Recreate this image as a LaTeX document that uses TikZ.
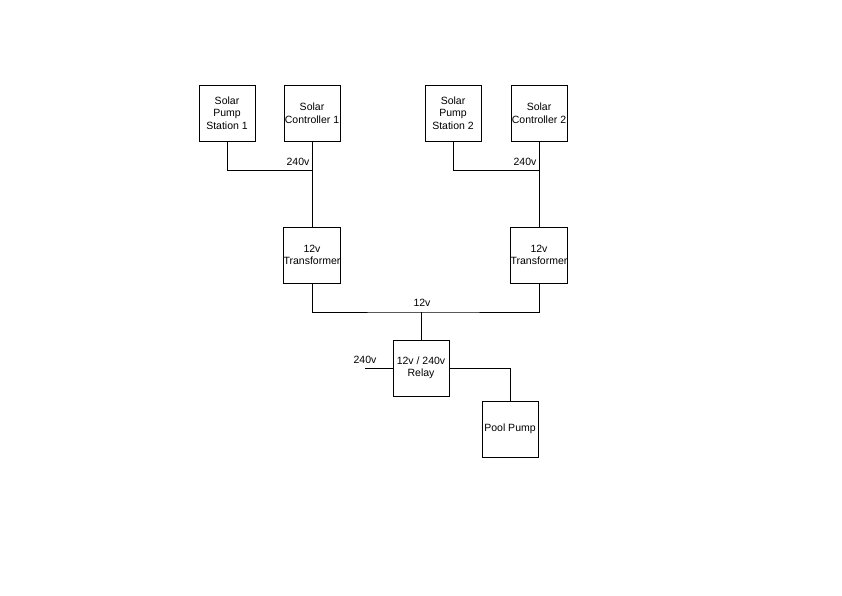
\documentclass[tikz,border=0pt]{standalone}
\usepackage{fontspec}
\setmainfont{Liberation Sans}
\usetikzlibrary{positioning, calc}

\begin{document}
\begin{tikzpicture}[
  x=1pt, y=-1pt,
  unitbox/.style={
    draw, line width=0.8pt, minimum width=56pt, minimum height=56pt,
    align=center, inner sep=0pt, font=\fontsize{10.5}{12.5}\selectfont
  },
  wire/.style={line width=0.8pt},
  volt/.style={font=\fontsize{10.5}{12.5}\selectfont, inner sep=1pt},
]

% Page frame
\useasboundingbox (0,0) rectangle (842,595);

% =============================================
% Solar units (top)
% =============================================
\node[unitbox] (sps1) at (227,113) {Solar\\Pump\\Station 1};
\node[unitbox] (sc1) at (312,113) {Solar\\Controller 1};
\node[unitbox] (sps2) at (453,113) {Solar\\Pump\\Station 2};
\node[unitbox] (sc2) at (539,113) {Solar\\Controller 2};

% Transformers
\node[unitbox] (tr1) at (312,255) {12v\\Transformer};
\node[unitbox] (tr2) at (539,255) {12v\\Transformer};

% Relay and pump
\node[unitbox] (relay) at (421,368) {12v / 240v\\Relay};
\node[unitbox] (pump) at (510,429) {Pool Pump};

% Junctions
\coordinate (j1) at (312,170);
\coordinate (j2) at (539,170);
\coordinate (bus) at (421,312);
\coordinate (mains) at (365,368);

% =============================================
% Wiring
% =============================================
\draw[wire] (sps1.south) |- (j1);
\draw[wire] (sc1.south) -- (tr1.north);
\draw[wire] (sps2.south) |- (j2);
\draw[wire] (sc2.south) -- (tr2.north);

\draw[wire] (tr1.south) |- (bus) -| (tr2.south);
\draw[wire] (bus) -- (relay.north);

\draw[wire] (mains) -- (relay.west);
\draw[wire] (relay.east) -| (pump.north);

% Voltage labels
\node[volt] (v1) at (298,162) {240v};
\node[volt] (v2) at (525,162) {240v};
\node[volt] (v3) at (422,303) {12v};
\node[volt] (v4) at (365,360) {240v};

\end{tikzpicture}
\end{document}
